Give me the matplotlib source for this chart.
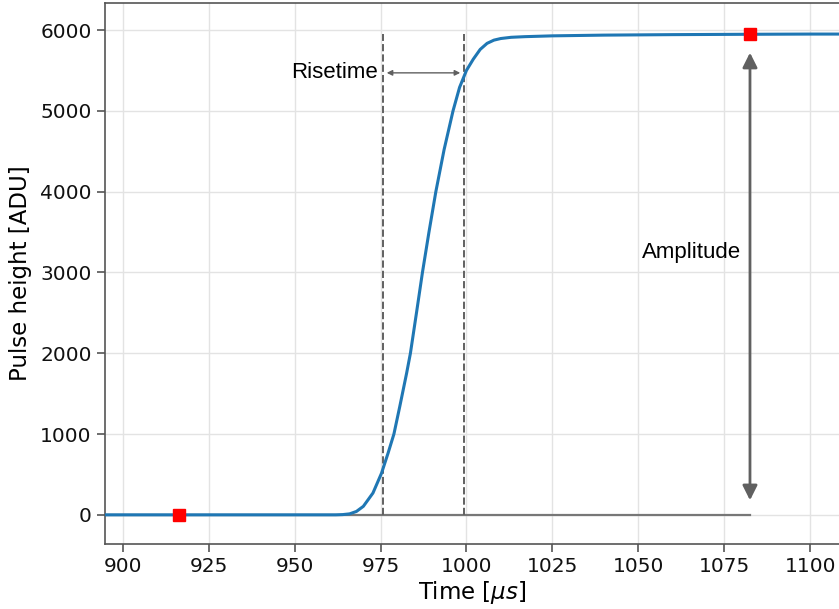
import matplotlib
matplotlib.use("Agg")
import matplotlib.pyplot as plt

# pulse
time_us = [894, 920, 950, 962, 964, 966, 968, 970, 972.8, 975.3, 977.2, 978.9,
           980.6, 982.6, 983.7, 985.5, 987.2, 989.1, 991.1, 993.5, 996.1, 998, 1000,
           1002, 1004, 1006, 1008, 1010, 1013, 1017, 1025, 1040, 1060, 1080, 1100, 1110]
height_adu = [0, 0, 0, 0, 3, 12, 42, 105, 270, 516, 764, 1000,
              1340, 1754, 2000, 2510, 3000, 3500, 4000, 4520, 5000, 5290, 5500,
              5640, 5760, 5835, 5875, 5895, 5910, 5918, 5928, 5937, 5943, 5947, 5950, 5950]

# markers and risetime / amplitude points
start_point = (916.5, 0)
peak_point = (1082.5, 5945)
rise_lo = 975.6
rise_hi = 999.2
amplitude = 5950

plt.rcParams['font.family'] = 'DejaVu Sans'
fig = plt.figure(figsize=(8.39, 6.09), dpi=100)
ax = fig.add_axes([0.125, 0.107, 0.875, 0.888])

grey = '#606060'
ax.plot([894, peak_point[0]], [0, 0], color='#777777', lw=1.6, zorder=2)
ax.plot(time_us, height_adu, color='#1f77b4', lw=2.2, zorder=3)
ax.plot([rise_lo, rise_lo], [0, amplitude], color=grey, ls='--', lw=1.4, zorder=2)
ax.plot([rise_hi, rise_hi], [0, amplitude], color=grey, ls='--', lw=1.4, zorder=2)
ax.plot([start_point[0], peak_point[0]], [start_point[1], peak_point[1]], 's',
        color='red', ms=8, ls='none', zorder=4)

# risetime arrow
ax.annotate('', xy=(rise_hi - 1.0, 5470), xytext=(rise_lo + 1.2, 5470),
            arrowprops=dict(arrowstyle='<|-|>', color=grey, lw=1.0,
                            mutation_scale=8, shrinkA=0, shrinkB=0))
ax.text(rise_lo - 1.4, 5470, 'Risetime', ha='right', va='center',
        fontsize=16, family='Liberation Sans')

# amplitude arrow
ax.annotate('', xy=(peak_point[0], 5720), xytext=(peak_point[0], 180),
            arrowprops=dict(arrowstyle='<|-|>', color=grey, lw=2.0,
                            mutation_scale=22, shrinkA=0, shrinkB=0))
ax.text(1080, 3250, 'Amplitude', ha='right', va='center',
        fontsize=16, family='Liberation Sans')

ax.set_xlim(894.8, 1108.4)
ax.set_ylim(-359, 6334)
ax.set_xticks([900, 925, 950, 975, 1000, 1025, 1050, 1075, 1100])
ax.set_yticks([0, 1000, 2000, 3000, 4000, 5000, 6000])
ax.grid(True, color='#e3e3e3', lw=1.0)
ax.set_axisbelow(True)
ax.spines['right'].set_visible(False)
for s in ['left', 'bottom', 'top']:
    ax.spines[s].set_color('#555555')
    ax.spines[s].set_linewidth(1.2)
ax.tick_params(direction='out', length=6, width=1.2, color='#555555',
               labelsize=14.5, labelcolor='#111111')
ax.set_xlabel(r'Time [$\mu s$]', fontsize=16.5, labelpad=2)
ax.set_ylabel('Pulse height [ADU]', fontsize=16.5, labelpad=6)

fig.savefig('out.png', dpi=100)
